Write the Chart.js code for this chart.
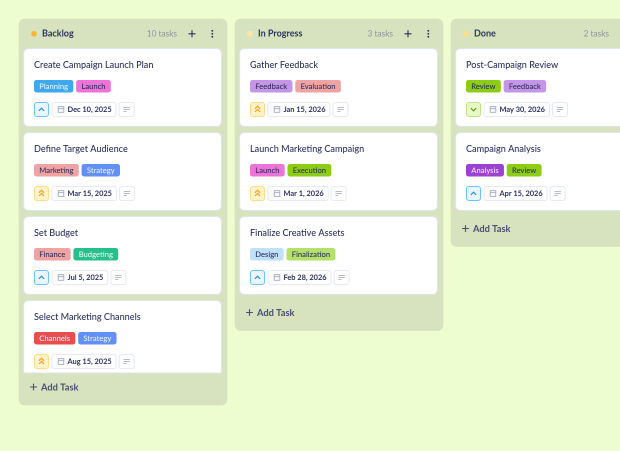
<!DOCTYPE html>
<html>
<head>
<meta charset="utf-8">
<title>Marketing board</title>
<script src="https://cdn.jsdelivr.net/npm/chart.js@4"></script>
<style>
    html, body { margin: 0; padding: 0; background: #edfdd0; overflow: hidden; }
    #board { display: block; }
</style>
</head>
<body>
<canvas id="board" width="620" height="451"></canvas>
<script>
const columnNames = ["Backlog", "In Progress", "Done"];
const columnCounts = ["10 tasks", "3 tasks", "2 tasks"];
const columnDots = ["#ffb52e", "#fbe8a6", "#ffdf85"];

const backlogTitles = ["Create Campaign Launch Plan", "Define Target Audience", "Set Budget", "Select Marketing Channels"];
const backlogTags = [["Planning", "Launch"], ["Marketing", "Strategy"], ["Finance", "Budgeting"], ["Channels", "Strategy"]];
const backlogDates = ["Dec 10, 2025", "Mar 15, 2025", "Jul 5, 2025", "Aug 15, 2025"];
const backlogPriority = ["medium", "high", "medium", "high"];

const progressTitles = ["Gather Feedback", "Launch Marketing Campaign", "Finalize Creative Assets"];
const progressTags = [["Feedback", "Evaluation"], ["Launch", "Execution"], ["Design", "Finalization"]];
const progressDates = ["Jan 15, 2026", "Mar 1, 2026", "Feb 28, 2026"];
const progressPriority = ["high", "high", "medium"];

const doneTitles = ["Post-Campaign Review", "Campaign Analysis"];
const doneTags = [["Review", "Feedback"], ["Analysis", "Review"]];
const doneDates = ["May 30, 2026", "Apr 15, 2026"];
const donePriority = ["low", "medium"];

const columns = [
    { titles: backlogTitles, tags: backlogTags, dates: backlogDates, priority: backlogPriority },
    { titles: progressTitles, tags: progressTags, dates: progressDates, priority: progressPriority },
    { titles: doneTitles, tags: doneTags, dates: doneDates, priority: donePriority }
];

const tagColors = {
    Planning: ["#3fa9f0", "#e8f4ff"], Launch: ["#ef72d8", "#2b2f5c"],
    Marketing: ["#efa3a3", "#2b2f5c"], Strategy: ["#6390f8", "#e8f0ff"],
    Finance: ["#efa3a3", "#2b2f5c"], Budgeting: ["#25c08c", "#e4fbf2"],
    Channels: ["#e84e4e", "#ffeeee"], Feedback: ["#c596e8", "#2b2f5c"],
    Evaluation: ["#efa3a3", "#2b2f5c"], Execution: ["#8ccc12", "#2b2f5c"],
    Design: ["#c0e1fa", "#2b2f5c"], Finalization: ["#b6e06c", "#2b2f5c"],
    Review: ["#8ccc12", "#2b2f5c"], Analysis: ["#9c42d2", "#f3e6fb"]
};

const priorityStyles = {
    medium: { bg: "#e8f6ff", border: "#6cc4ff", color: "#2f8fd8" },
    high: { bg: "#fff3c9", border: "#ffdc85", color: "#f5a623" },
    low: { bg: "#e8f8c6", border: "#bde584", color: "#5f9e10" }
};

// board layout
const COL_LEFT = 19, COL_STEP = 216, COL_W = 208, COL_TOP = 19;
const CARD_TOP = 48.5, CARD_STEP = 84, CARD_H = 78, CARD_W = 198, LIST_END = 373;
const FONT = "Lato, 'Noto Sans', sans-serif";
const NAVY = "#2d3360";

function colCenter(c) { return COL_LEFT + COL_STEP * c + COL_W / 2; }
function lastCardBottom(c) {
    return Math.min(CARD_TOP + CARD_STEP * (columns[c].titles.length - 1) + CARD_H, LIST_END);
}
function addTaskY(c) {
    const end = lastCardBottom(c);
    return end === LIST_END ? end + 14 : end + 18;
}

const panelBars = columnNames.map((name, c) => ({ x: colCenter(c), y: [COL_TOP, addTaskY(c) + 18] }));
const cardBars = [];
columns.forEach((col, c) => col.titles.forEach((t, i) => {
    const top = CARD_TOP + CARD_STEP * i;
    cardBars.push({ x: colCenter(c) - 0.5, y: [top, Math.min(top + CARD_H, LIST_END)] });
}));

function roundBox(ctx, x, y, w, h, r, fill, stroke) {
    ctx.beginPath();
    ctx.roundRect(x, y, w, h, r);
    if (fill) { ctx.fillStyle = fill; ctx.fill(); }
    if (stroke) { ctx.strokeStyle = stroke; ctx.lineWidth = 1; ctx.stroke(); }
}

function label(ctx, text, x, y, font, color, align) {
    ctx.font = font;
    ctx.fillStyle = color;
    ctx.textAlign = align || "left";
    ctx.textBaseline = "middle";
    ctx.fillText(text, x, y);
}

function drawChevrons(ctx, cx, cy, kind, color) {
    ctx.strokeStyle = color;
    ctx.lineWidth = 1.2;
    const rows = kind === "high" ? [-2, 1.2] : [0];
    const dir = kind === "low" ? -1 : 1;
    rows.forEach(dy => {
        ctx.beginPath();
        ctx.moveTo(cx - 2.6, cy + dy + 1.3 * dir);
        ctx.lineTo(cx, cy + dy - 1.3 * dir);
        ctx.lineTo(cx + 2.6, cy + dy + 1.3 * dir);
        ctx.stroke();
    });
}

function drawCalendar(ctx, cx, cy) {
    ctx.strokeStyle = "#a3a9c4";
    ctx.lineWidth = 0.9;
    ctx.strokeRect(cx - 2.8, cy - 2.8, 5.6, 5.6);
    ctx.beginPath();
    ctx.moveTo(cx - 2.8, cy - 0.8);
    ctx.lineTo(cx + 2.8, cy - 0.8);
    ctx.stroke();
}

function drawNotes(ctx, cx, cy) {
    ctx.strokeStyle = "#aeb3ca";
    ctx.lineWidth = 0.9;
    [[-2, 3.2], [0, 3.2], [2, 1.6]].forEach(([dy, half]) => {
        ctx.beginPath();
        ctx.moveTo(cx - 3.2, cy + dy);
        ctx.lineTo(cx - 3.2 + half * 2, cy + dy);
        ctx.stroke();
    });
}

function drawPlus(ctx, cx, cy, size, color) {
    ctx.strokeStyle = color;
    ctx.lineWidth = 1.1;
    ctx.beginPath();
    ctx.moveTo(cx - size, cy);
    ctx.lineTo(cx + size, cy);
    ctx.moveTo(cx, cy - size);
    ctx.lineTo(cx, cy + size);
    ctx.stroke();
}

function drawCard(ctx, col, i, left, top) {
    const textX = left + 10;
    label(ctx, col.titles[i], textX, top + 16.6, "500 9.1px " + FONT, NAVY);

    // tags
    let tagX = textX;
    col.tags[i].forEach(tag => {
        const [bg, fg] = tagColors[tag];
        ctx.font = "500 7.6px " + FONT;
        const w = ctx.measureText(tag).width + 10.6;
        roundBox(ctx, tagX, top + 31.5, w, 12.5, 2.5, bg);
        label(ctx, tag, tagX + w / 2, top + 38, "500 7.6px " + FONT, fg, "center");
        tagX += w + 2.8;
    });

    // priority, date and notes chips
    const chipY = top + 54, style = priorityStyles[col.priority[i]];
    roundBox(ctx, textX + 0.5, chipY, 14, 14, 2.5, style.bg, style.border);
    drawChevrons(ctx, textX + 7.5, chipY + 7, col.priority[i], style.color);

    ctx.font = "700 7.4px " + FONT;
    const dateW = ctx.measureText(col.dates[i]).width;
    const dateX = textX + 18;
    roundBox(ctx, dateX, chipY, dateW + 20, 14, 2.5, "#ffffff", "#e6e9f6");
    drawCalendar(ctx, dateX + 9, chipY + 7);
    label(ctx, col.dates[i], dateX + 15.5, chipY + 7.3, "700 7.4px " + FONT, NAVY);

    const notesX = dateX + dateW + 23;
    roundBox(ctx, notesX, chipY, 15, 14, 2.5, "#ffffff", "#e6e9f6");
    drawNotes(ctx, notesX + 7.5, chipY + 7);
}

// header text, chips and icons go on top of the bars
const boardDetails = {
    id: "boardDetails",
    afterDatasetsDraw(chart) {
        const { ctx, chartArea } = chart;
        ctx.save();
        ctx.beginPath();
        ctx.rect(chartArea.left, chartArea.top, chartArea.width, chartArea.height);
        ctx.clip();

        columns.forEach((col, c) => {
            const left = COL_LEFT + COL_STEP * c;

            ctx.beginPath();
            ctx.arc(left + 15, 33.8, 2.8, 0, Math.PI * 2);
            ctx.fillStyle = columnDots[c];
            ctx.fill();
            label(ctx, columnNames[c], left + 23, 33.8, "700 9px " + FONT, NAVY);
            label(ctx, columnCounts[c], left + 158, 33.8, "400 8.3px " + FONT, "#8c93a6", "right");
            drawPlus(ctx, left + 173, 33.8, 3.5, NAVY);
            ctx.fillStyle = NAVY;
            [-3, 0, 3].forEach(dy => {
                ctx.beginPath();
                ctx.arc(left + 193.3, 33.8 + dy, 0.95, 0, Math.PI * 2);
                ctx.fill();
            });

            col.titles.forEach((t, i) => {
                const top = CARD_TOP + CARD_STEP * i;
                ctx.save();
                ctx.beginPath();
                ctx.rect(left, top, COL_W, LIST_END - top);
                ctx.clip();
                drawCard(ctx, col, i, left + 5, top);
                ctx.restore();
            });

            const addY = addTaskY(c);
            drawPlus(ctx, left + 14.5, addY, 3.4, "#4a4f75");
            label(ctx, "Add Task", left + 22, addY + 0.6, "700 9.3px " + FONT, "#4a4f75");
        });
        ctx.restore();
    }
};

new Chart(document.getElementById("board"), {
    type: "bar",
    data: {
        datasets: [
            {
                label: "Columns",
                data: panelBars,
                backgroundColor: "#d7e3bf",
                borderWidth: 0,
                borderRadius: 6,
                borderSkipped: false,
                barThickness: COL_W,
                grouped: false,
                order: 2
            },
            {
                label: "Tasks",
                data: cardBars,
                backgroundColor: "#ffffff",
                borderColor: "#e2e7f6",
                borderWidth: 1,
                borderRadius: ctx => ctx.raw && ctx.raw.y[1] === LIST_END
                    ? { topLeft: 5, topRight: 5, bottomLeft: 0, bottomRight: 0 } : 5,
                borderSkipped: false,
                barThickness: CARD_W,
                grouped: false,
                order: 1
            }
        ]
    },
    options: {
        responsive: false,
        animation: false,
        devicePixelRatio: 2,
        layout: { padding: 0 },
        events: [],
        plugins: { legend: { display: false }, tooltip: { enabled: false }, title: { display: false } },
        scales: {
            x: { type: "linear", min: 0, max: 620, offset: false, display: false },
            y: { type: "linear", min: 0, max: 451, reverse: true, display: false }
        }
    },
    plugins: [boardDetails]
});
</script>
</body>
</html>
